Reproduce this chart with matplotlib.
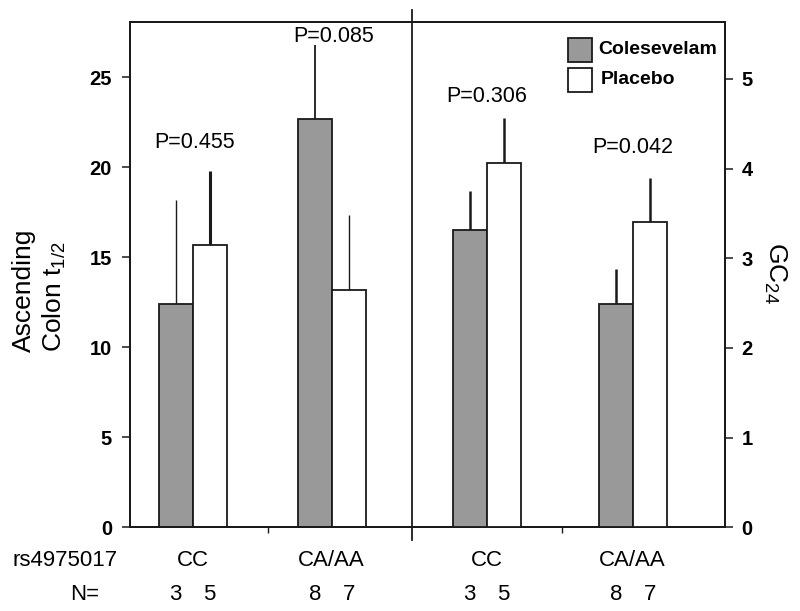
import matplotlib
matplotlib.use("Agg")
import matplotlib.pyplot as plt
from matplotlib.patches import Rectangle
import numpy as np

plt.rcParams['font.family'] = ['Liberation Sans', 'DejaVu Sans']
plt.rcParams['mathtext.fontset'] = 'custom'
plt.rcParams['mathtext.rm'] = 'Liberation Sans'
plt.rcParams['mathtext.it'] = 'Liberation Sans:italic'

# ---------------- data ----------------
genotypes = ["CC", "CA/AA"]
series = ["Colesevelam", "Placebo"]
# Ascending colon t1/2 (left axis)
t12_coles = [12.4, 22.7]
t12_coles_err = [5.8, 4.1]
t12_plac = [15.7, 13.2]
t12_plac_err = [4.1, 4.15]
t12_p = ["P=0.455", "P=0.085"]
# GC24 (right axis)
gc_coles = [3.31, 2.49]
gc_coles_err = [0.44, 0.39]
gc_plac = [4.06, 3.40]
gc_plac_err = [0.50, 0.50]
gc_p = ["P=0.306", "P=0.042"]
n_coles = [3, 8]
n_plac = [5, 7]
left_ticks = [0, 5, 10, 15, 20, 25]
right_ticks = [0, 1, 2, 3, 4, 5]

# ---------------- layout ----------------
W, H = 800, 611
fig = plt.figure(figsize=(W / 100, H / 100), dpi=100)
ax = fig.add_axes([130 / W, (H - 527.3) / H, 595 / W, 505.3 / H])
ax2 = ax.twinx()

left_centers = np.array([1.844, 5.932])
right_centers = np.array([10.49, 14.785])
bw = 1.0
divider_x = 8.29
mid_ticks = [4.05, 12.7]
gray = "#999999"
edge = "#1a1a1a"

ax.set_xlim(0, 17.5)
ax.set_ylim(0, 28.07)
ax2.set_ylim(0, 5.635)

def draw_half(a, centers, cv, ce, pv, pe, lw_c, lw_p):
    a.bar(centers - bw, cv, bw, align='edge', color=gray, edgecolor=edge, linewidth=1.3, zorder=3)
    a.bar(centers, pv, bw, align='edge', color='white', edgecolor=edge, linewidth=1.3, zorder=3)
    for i in range(len(centers)):
        a.vlines(centers[i] - bw / 2, cv[i], cv[i] + ce[i], color=edge, linewidth=lw_c[i], zorder=2)
        a.vlines(centers[i] + bw / 2, pv[i], pv[i] + pe[i], color=edge, linewidth=lw_p[i], zorder=2)

draw_half(ax, left_centers, t12_coles, t12_coles_err, t12_plac, t12_plac_err, [1.0, 1.3], [2.2, 1.0])
draw_half(ax2, right_centers, gc_coles, gc_coles_err, gc_plac, gc_plac_err, [1.8, 1.8], [1.8, 1.8])

# P labels
p_left_y = [21.35, 27.25]
p_right_y = [4.80, 4.23]
for i in range(2):
    ax.text(left_centers[i] + 0.05, p_left_y[i], t12_p[i], ha='center', va='center', fontsize=15.5)
    ax2.text(right_centers[i], p_right_y[i], gc_p[i], ha='center', va='center', fontsize=15.5)

# divider line
ax.plot([divider_x, divider_x], [-0.72, 28.75], color=edge, linewidth=1.3, clip_on=False, zorder=4)

# spines / ticks
for a in (ax, ax2):
    for s in a.spines.values():
        s.set_linewidth(1.4)
        s.set_color(edge)
ax.set_xticks(mid_ticks)
ax.set_xticklabels([])
ax.tick_params(axis='x', direction='out', length=4, width=1.0, color=edge)
ax.set_yticks(left_ticks)
ax.tick_params(axis='y', direction='out', length=5.5, width=1.1, pad=7.5, labelsize=14.5, color=edge)
ax2.set_yticks(right_ticks)
ax2.tick_params(axis='y', direction='out', length=5.5, width=1.1, pad=6.5, labelsize=14.5, color=edge)
for lab in ax.get_yticklabels() + ax2.get_yticklabels():
    lab.set_fontweight('bold')

# bottom labels
trans = ax.get_xaxis_transform()
y_geno = (527.3 - 561) / 505.3
y_n = (527.3 - 594) / 505.3
ax.text(-0.197, y_geno, "rs4975017", transform=ax.transAxes, ha='left', va='center', fontsize=16)
ax.text(-0.0756, y_n, "N=", transform=ax.transAxes, ha='center', va='center', fontsize=16)
for centers in (left_centers, right_centers):
    for i, c in enumerate(centers):
        ax.text(c, y_geno, genotypes[i], transform=trans, ha='center', va='center', fontsize=16)
        ax.text(c - bw / 2, y_n, str(n_coles[i]), transform=trans, ha='center', va='center', fontsize=16)
        ax.text(c + bw / 2, y_n, str(n_plac[i]), transform=trans, ha='center', va='center', fontsize=16)

# axis labels
fig.text(40 / W, 1 - 290 / H, "Ascending\nColon t$_{\\mathregular{1/2}}$", rotation=90,
         ha='center', va='center', multialignment='left', fontsize=19)
fig.text(775 / W, 1 - 273 / H, "GC$_{\\mathregular{24}}$", rotation=270,
         ha='center', va='center', fontsize=19)

# legend
fills = [gray, 'white']
box_y = [0.921, 0.861]
text_y = [0.945, 0.886]
text_x = [0.787, 0.791]
for i in range(2):
    ax.add_patch(Rectangle((0.736, box_y[i]), 0.040, 0.047, transform=ax.transAxes,
                           facecolor=fills[i], edgecolor=edge, linewidth=1.3, zorder=5, clip_on=False))
    ax.text(text_x[i], text_y[i], series[i], transform=ax.transAxes, ha='left', va='center',
            fontsize=14, fontweight='bold', zorder=5)

fig.savefig("out.png", dpi=100)
